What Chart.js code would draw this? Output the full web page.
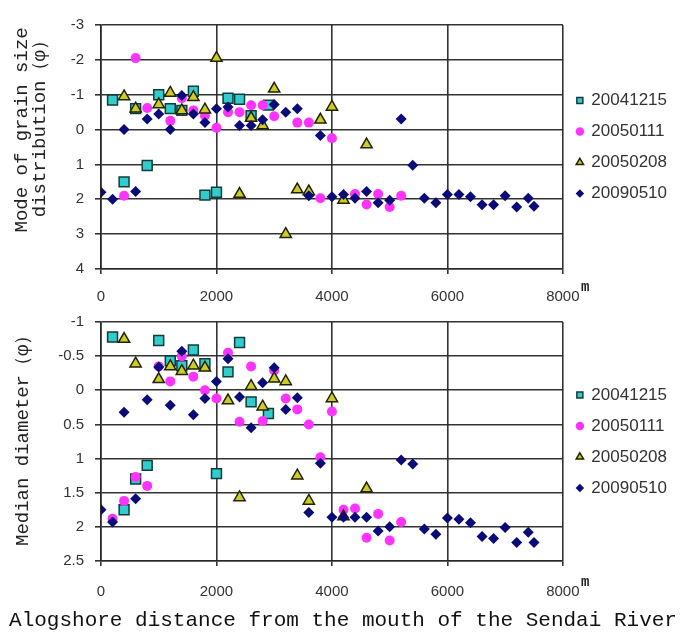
<!DOCTYPE html>
<html>
<head>
<meta charset="utf-8">
<script src="https://cdn.jsdelivr.net/npm/chart.js@4.4.1/dist/chart.umd.min.js"></script>
<style>
    body { margin: 0; background: #fff; }
    #wrap { position: relative; width: 686px; height: 632px; overflow: hidden; }
    .box { position: absolute; left: 0; width: 686px; }
    .unit { position: absolute; font: bold 14px 'Liberation Mono', monospace; color: #222; }
    #xTitle { position: absolute; left: 0; top: 609px; width: 686px; text-align: center;
              font: 21px 'Liberation Mono', monospace; color: #111; white-space: nowrap; }
</style>
</head>
<body>
<div id="wrap">
    <div class="box" style="top:0;height:307px"><canvas id="modeChart"></canvas></div>
    <div class="box" style="top:302px;height:297px"><canvas id="medianChart"></canvas></div>
    <span class="unit" style="left:581px;top:279px">m</span>
    <span class="unit" style="left:581px;top:574px">m</span>
    <div id="xTitle">Alogshore distance from the mouth of the Sendai River</div>
</div>
<script>
const surveys = ['20041215', '20050111', '20050208', '20090510'];
const distTicks = [0, 2000, 4000, 6000, 8000];
const modeTicks = [-3, -2, -1, 0, 1, 2, 3, 4];
const medianTicks = [-1, -0.5, 0, 0.5, 1, 1.5, 2, 2.5];

// mode of grain size distribution (phi)
const modeDist1215 = [200, 400, 600, 800, 1000, 1200, 1400, 1600, 1800, 2000, 2200, 2400, 2600, 2900];
const modePhi1215 = [-0.85, 1.5, -0.6, 1.03, -1.0, -0.6, -0.55, -1.1, 1.88, 1.8, -0.9, -0.87, -0.4, -0.7];
const modeDist0111 = [400, 600, 800, 1200, 1400, 1600, 1800, 2000, 2200, 2400, 2600, 2800, 3000, 3400, 3600, 3800, 4000, 4400, 4600, 4800, 5000, 5200];
const modePhi0111 = [1.9, -2.05, -0.62, -0.25, -0.9, -0.55, -0.4, -0.05, -0.5, -0.5, -0.7, -0.7, -0.38, -0.2, -0.2, 1.97, 0.25, 1.85, 2.15, 1.85, 2.22, 1.9];
const modeDist0208 = [400, 600, 1000, 1200, 1400, 1600, 1800, 2000, 2400, 2600, 2800, 3000, 3200, 3400, 3600, 3800, 4000, 4200, 4600];
const modePhi0208 = [-0.95, -0.6, -0.72, -1.05, -0.55, -0.93, -0.57, -2.05, 1.85, -0.33, -0.12, -1.17, 3.0, 1.72, 1.78, -0.28, -0.65, 2.02, 0.43];
const modeDist0510 = [0, 200, 400, 600, 800, 1000, 1200, 1400, 1600, 1800, 2000, 2200, 2400, 2600, 2800, 3000, 3200, 3400, 3600, 3800,
    4000, 4200, 4400, 4600, 4800, 5000, 5200, 5400, 5600, 5800, 6000, 6200, 6400, 6600, 6800, 7000, 7200, 7400, 7500];
const modePhi0510 = [1.8, 2.0, 0, 1.78, -0.3, -0.45, 0, -0.98, -0.45, -0.2, -0.6, -0.65, -0.12, -0.12, -0.28, -0.72, -0.5, -0.6, 1.9, 0.17,
    1.93, 1.86, 1.97, 1.78, 2.1, 2.03, -0.3, 1.02, 1.97, 2.1, 1.86, 1.86, 1.93, 2.16, 2.16, 1.9, 2.22, 1.97, 2.2];

// median diameter (phi)
const medDist1215 = [200, 400, 600, 800, 1000, 1200, 1400, 1600, 1800, 2000, 2200, 2400, 2600, 2900];
const medPhi1215 = [-0.78, 1.75, 1.3, 1.1, -0.73, -0.43, -0.36, -0.59, -0.39, 1.22, -0.27, -0.7, 0.17, 0.34];
const medDist0111 = [200, 400, 600, 800, 1000, 1200, 1400, 1600, 1800, 2000, 2200, 2400, 2600, 2800, 3000, 3200, 3400, 3600, 3800, 4000, 4200, 4400, 4600, 4800, 5000, 5200];
const medPhi0111 = [1.88, 1.62, 1.27, 1.4, -0.35, -0.13, -0.5, -0.2, 0, 0.12, -0.55, 0.46, -0.35, 0.45, -0.29, 0.12, 0.28, 0.5, 0.98, 0.31, 1.75, 1.73, 2.16, 1.81, 2.2, 1.93];
const medDist0208 = [400, 600, 1000, 1200, 1400, 1600, 1800, 2200, 2400, 2600, 2800, 3000, 3200, 3400, 3600, 4000, 4200, 4600];
const medPhi0208 = [-0.75, -0.39, -0.16, -0.35, -0.28, -0.36, -0.33, 0.15, 1.57, -0.06, 0.24, -0.17, -0.13, 1.25, 1.62, 0.12, 1.85, 1.44];
const medDist0510 = [0, 200, 400, 600, 800, 1000, 1200, 1400, 1600, 1800, 2000, 2200, 2400, 2600, 2800, 3000, 3200, 3400, 3600, 3800,
    4000, 4200, 4400, 4600, 4800, 5000, 5200, 5400, 5600, 5800, 6000, 6200, 6400, 6600, 6800, 7000, 7200, 7400, 7500];
const medPhi0510 = [1.75, 1.93, 0.32, 1.59, 0.14, -0.34, 0.22, -0.57, 0.36, 0.12, -0.13, -0.46, 0.1, 0.55, -0.11, -0.33, 0.28, 0.11, 1.79, 1.07,
    1.86, 1.86, 1.86, 1.86, 2.06, 2.0, 1.02, 1.08, 2.03, 2.11, 1.87, 1.89, 1.94, 2.14, 2.17, 2.01, 2.23, 2.08, 2.23];

const markerStyles = [
    { pointStyle: 'rect', radius: 7, fill: '#33cccc', line: '#123c3c', width: 1.5, order: 4 },
    { pointStyle: 'circle', radius: 5, fill: '#ff33ff', line: '#ff33ff', width: 0, order: 3 },
    { pointStyle: 'triangle', radius: 6.5, fill: '#cccc22', line: '#222200', width: 1.5, order: 2 },
    { pointStyle: 'rectRot', radius: 5.5, fill: '#0a0a78', line: '#0a0a78', width: 0, order: 1 }
];

const gridColor = 'rgba(40, 40, 40, 0.95)';

function makeDatasets(xsList, ysList) {
    return surveys.map((name, i) => {
        const s = markerStyles[i];
        return {
            label: name,
            data: xsList[i].map((x, j) => ({ x: x, y: ysList[i][j] })),
            pointStyle: s.pointStyle,
            pointRadius: s.radius,
            pointHoverRadius: s.radius,
            backgroundColor: s.fill,
            borderColor: s.line,
            borderWidth: s.width,
            order: s.order
        };
    });
}

function makeChart(canvasId, datasets, yTicks, yMin, yMax, yTitle, titlePad, padTop, labelPad) {
    return new Chart(document.getElementById(canvasId), {
        type: 'scatter',
        data: { datasets: datasets },
        options: {
            responsive: true,
            maintainAspectRatio: false,
            animation: false,
            layout: { padding: { top: padTop, left: 0, right: 9, bottom: 0 } },
            plugins: {
                tooltip: { enabled: false },
                legend: {
                    position: 'right',
                    align: 'center',
                    fullSize: false,
                    labels: {
                        usePointStyle: true,
                        boxWidth: 6,
                        boxHeight: 6,
                        padding: 14,
                        color: '#333',
                        font: { family: "'Liberation Sans', Arial, sans-serif", size: 17 },
                        sort: (a, b) => a.datasetIndex - b.datasetIndex
                    }
                }
            },
            scales: {
                x: {
                    type: 'linear',
                    min: 0,
                    max: 8000,
                    afterBuildTicks: scale => { scale.ticks = distTicks.map(v => ({ value: v })); },
                    afterFit: scale => { scale.height = 38; },
                    ticks: {
                        color: '#333',
                        padding: labelPad,
                        font: { family: "'Liberation Sans', Arial, sans-serif", size: 15 },
                        callback: v => String(v)
                    },
                    grid: { color: gridColor, lineWidth: 1.6, tickLength: 5, tickColor: gridColor },
                    border: { display: true, color: gridColor, width: 1.6 }
                },
                y: {
                    type: 'linear',
                    reverse: true,
                    min: yMin,
                    max: yMax,
                    afterBuildTicks: scale => { scale.ticks = yTicks.map(v => ({ value: v })); },
                    afterFit: scale => { scale.width = 101; },
                    title: {
                        display: true,
                        text: yTitle,
                        color: '#222',
                        padding: { top: titlePad, bottom: 0 },
                        font: { family: "'Liberation Mono', monospace", size: 19, lineHeight: 0.95 }
                    },
                    ticks: {
                        color: '#333',
                        padding: 11,
                        font: { family: "'Liberation Sans', Arial, sans-serif", size: 15 },
                        callback: v => String(v)
                    },
                    grid: { color: gridColor, lineWidth: 1.6, tickLength: 6, tickColor: gridColor },
                    border: { display: true, color: gridColor, width: 1.6 }
                }
            }
        }
    });
}

// leading spaces nudge the centred titles up, as in the original layout
makeChart('modeChart',
    makeDatasets([modeDist1215, modeDist0111, modeDist0208, modeDist0510], [modePhi1215, modePhi0111, modePhi0208, modePhi0510]),
    modeTicks, -3, 4, ['   Mode of grain size', '    distribution（φ）'], 13, 25, 14);

makeChart('medianChart',
    makeDatasets([medDist1215, medDist0111, medDist0208, medDist0510], [medPhi1215, medPhi0111, medPhi0208, medPhi0510]),
    medianTicks, -1, 2.5, ' Median diameter（φ）', 14, 20, 17);
</script>
</body>
</html>
